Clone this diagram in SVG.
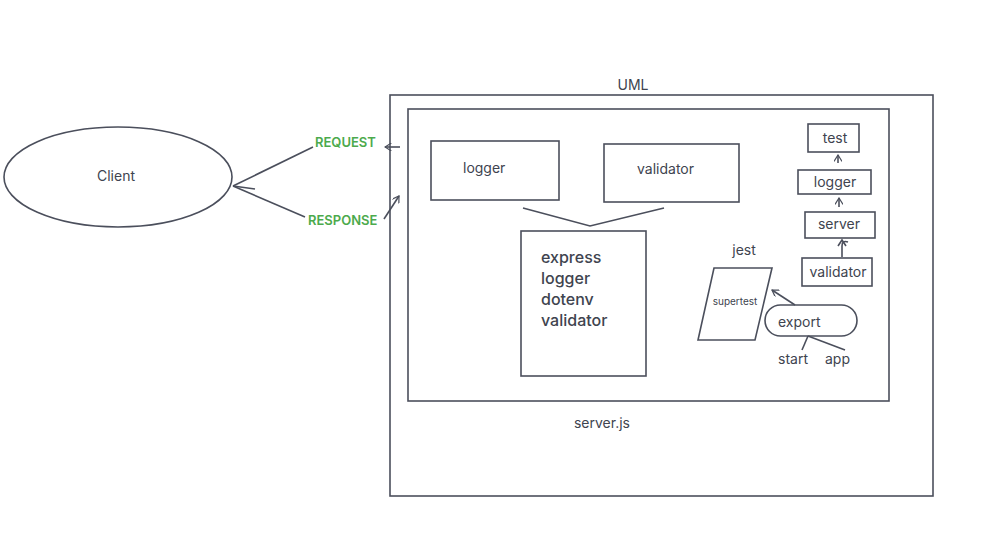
<svg xmlns="http://www.w3.org/2000/svg" width="1005" height="559" viewBox="0 0 1005 559">
<defs>
<style>
.s{fill:none;stroke:#4b4f5c;stroke-width:1.6}
.t{font-family:Inter,"Liberation Sans",sans-serif;fill:#40444f;font-size:14px}
.g{font-family:Inter,"Liberation Sans",sans-serif;fill:#4caa4c;font-size:13px;font-weight:600}
</style>
<marker id="a" viewBox="0 0 10 10" refX="9" refY="5" markerWidth="8" markerHeight="8" orient="auto" markerUnits="userSpaceOnUse">
<path d="M1,0 L9,5 L1,10" fill="none" stroke="#4b4f5c" stroke-width="1.5"/>
</marker>
</defs>
<rect width="1005" height="559" fill="#fff"/>
<g id="client"><ellipse class="s" cx="118" cy="177" rx="114" ry="50"/><text class="t" x="116" y="181" text-anchor="middle">Client</text></g>
<g id="uml"><rect class="s" x="390" y="95" width="543" height="401"/><text class="t" x="633" y="90" text-anchor="middle">UML</text></g>
<g id="serverjs"><rect class="s" x="408" y="109" width="481" height="292"/><text class="t" x="602" y="428" text-anchor="middle">server.js</text></g>
<g id="logger"><rect class="s" x="431" y="141" width="128" height="59"/><text class="t" x="463" y="173">logger</text></g>
<g id="validator"><rect class="s" x="604" y="144" width="135" height="58"/><text class="t" x="637" y="174">validator</text></g>
<g id="express"><rect class="s" x="521" y="231" width="125" height="145"/><text class="t" style="font-size:16px;font-weight:500"><tspan x="541" y="263">express</tspan><tspan x="541" y="284">logger</tspan><tspan x="541" y="305">dotenv</tspan><tspan x="541" y="326">validator</tspan></text></g>
<g id="test"><rect class="s" x="808" y="124" width="51" height="28"/><text class="t" x="835" y="143" text-anchor="middle">test</text></g>
<g id="logger2"><rect class="s" x="798" y="170" width="73" height="24"/><text class="t" x="835" y="187" text-anchor="middle">logger</text></g>
<g id="server"><rect class="s" x="805" y="212" width="70" height="26"/><text class="t" x="839" y="229" text-anchor="middle">server</text></g>
<g id="validator2"><rect class="s" x="802" y="258" width="70" height="28"/><text class="t" x="838" y="277" text-anchor="middle">validator</text></g>
<g id="jest"><text class="t" x="744" y="255" text-anchor="middle">jest</text><polygon class="s" points="714,268 772,268 755,340 698,340"/><text class="t" x="735" y="305" text-anchor="middle" style="font-size:10px">supertest</text></g>
<g id="export"><rect class="s" x="765" y="305" width="92" height="31" rx="15.5"/><text class="t" x="778" y="327">export</text><text class="t" x="778" y="364">start</text><text class="t" x="825" y="364">app</text></g>
<g id="connectors">
<polyline class="s" points="523,208 590,226 664,208"/>
<line class="s" x1="313" y1="147" x2="233" y2="186"/>
<line class="s" x1="305" y1="217" x2="233" y2="186"/>
<line class="s" x1="233" y1="186" x2="255" y2="189"/>
<line class="s" x1="400" y1="147" x2="385" y2="147" marker-end="url(#a)"/>
<line class="s" x1="384" y1="219" x2="399" y2="196" marker-end="url(#a)"/>
<line class="s" x1="838" y1="163" x2="838" y2="155" marker-end="url(#a)"/>
<line class="s" x1="839" y1="207" x2="839" y2="198" marker-end="url(#a)"/>
<path class="s" d="M842,257 L842,246 Q842,240 848,242"/>
<path class="s" d="M838,246 L842,240 L846,246"/>
<line class="s" x1="795" y1="305" x2="772" y2="290" marker-end="url(#a)"/>
<line class="s" x1="808" y1="336" x2="802" y2="350"/>
<line class="s" x1="808" y1="336" x2="845" y2="350"/>
</g>
<text class="g" x="315" y="147">REQUEST</text>
<text class="g" x="308" y="225">RESPONSE</text>
</svg>
